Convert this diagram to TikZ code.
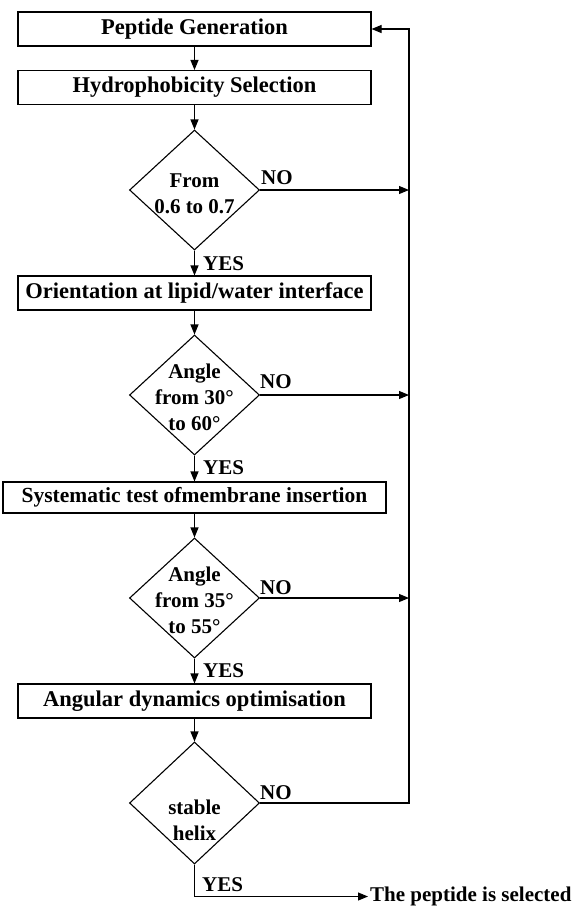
\documentclass[tikz,border=0pt]{standalone}
\usepackage{fontspec}
\setmainfont{Liberation Serif}
\usetikzlibrary{shapes.geometric,arrows.meta}
\begin{document}
\begin{tikzpicture}[x=1pt,y=-1pt,
  every node/.style={font=\bfseries\fontsize{21}{26}\selectfont},
  boxfont/.style={font=\bfseries\fontsize{22.5}{26}\selectfont},
  procbox/.style={draw, line width=1.1pt, rectangle, minimum height=34pt, inner sep=0pt, boxfont},
  decis/.style={draw, line width=1.1pt, diamond, minimum width=130pt, minimum height=120pt, inner sep=0pt},
  dtext/.style={align=center, inner sep=0pt},
  lbl/.style={inner sep=0pt, anchor=base west},
  conn/.style={line width=1.1pt, -{Triangle[length=10pt,width=8pt]}},
  plainline/.style={line width=1.1pt}]
\useasboundingbox (0,0) rectangle (578,906);

% process boxes
\node[procbox, minimum width=353pt] (b1) at (194.5,29) {Peptide Generation};
\node[procbox, minimum width=353pt] (b2) at (194.5,87.5) {Hydrophobicity Selection};
\node[procbox, minimum width=353pt] (b3) at (194.5,293) {Orientation at lipid/water interface};
\node[procbox, minimum width=383pt, minimum height=31pt, font=\bfseries\fontsize{21.5}{26}\selectfont] (b4) at (194.5,497.5) {Systematic test ofmembrane insertion};
\node[procbox, minimum width=353pt] (b5) at (194.5,701) {Angular dynamics optimisation};

% decisions
\node[decis] (d1) at (194.5,190) {};
\node[decis] (d2) at (194.5,395) {};
\node[decis] (d3) at (194.5,598) {};
\node[decis, minimum height=122pt] (d4) at (194.5,803) {};
\node[dtext] (t1) at (194.5,194) {From\\0.6 to 0.7};
\node[dtext] (t2) at (194.5,397) {Angle\\from 30°\\to 60°};
\node[dtext] (t3) at (194.5,600) {Angle\\from 35°\\to 55°};
\node[dtext] (t4) at (194.5,820) {stable\\helix};

% labels
\node[lbl] (n1) at (261,184.5) {NO};
\node[lbl] (n2) at (260,388) {NO};
\node[lbl] (n3) at (260,594) {NO};
\node[lbl] (n4) at (260,799) {NO};
\node[lbl] (y1) at (203,270.5) {YES};
\node[lbl] (y2) at (203,474) {YES};
\node[lbl] (y3) at (203,677) {YES};
\node[lbl] (y4) at (202,891) {YES};

\node[lbl, inner sep=0pt] (sel) at (370,901.5) {The peptide is selected};

% main flow
\draw[conn] (b1.south) -- (b2.north);
\draw[conn] (b2.south) -- (d1.north);
\draw[conn] (d1.south) -- (b3.north);
\draw[conn] (b3.south) -- (d2.north);
\draw[conn] (d2.south) -- (b4.north);
\draw[conn] (b4.south) -- (d3.north);
\draw[conn] (d3.south) -- (b5.north);
\draw[conn] (b5.south) -- (d4.north);

% feedback
\coordinate (fb) at (409,29);
\draw[conn] (d1.east) -- (d1.east -| fb);
\draw[conn] (d2.east) -- (d2.east -| fb);
\draw[conn] (d3.east) -- (d3.east -| fb);
\draw[conn] (d4.east) -- (d4.east -| fb) -- (fb) -- (b1.east);

% exit
\coordinate (ye) at (194.5,896.5);
\draw[conn, shorten >=2pt] (d4.south) -- (ye) -- (ye -| sel.west);
\end{tikzpicture}
\end{document}
